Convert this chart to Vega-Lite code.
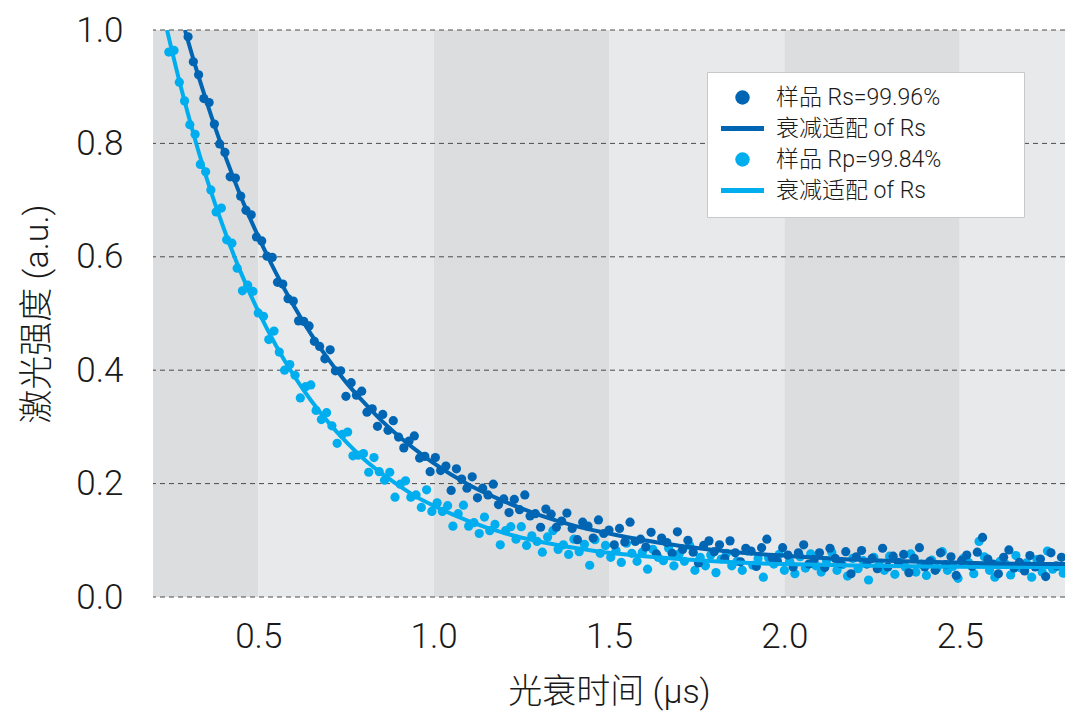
{
  "$schema": "https://vega.github.io/schema/vega-lite/v6.json",
  "width": 912,
  "height": 567,
  "autosize": {"type": "none"},
  "padding": {"left": 153, "top": 30, "right": 0, "bottom": 119},
  "background": "white",
  "config": {"view": {"stroke": null}},
  "datasets": {
    "bands": [
      {"x1": 0.2, "x2": 0.5, "tone": "dark"},
      {"x1": 0.5, "x2": 1.0, "tone": "light"},
      {"x1": 1.0, "x2": 1.5, "tone": "dark"},
      {"x1": 1.5, "x2": 2.0, "tone": "light"},
      {"x1": 2.0, "x2": 2.5, "tone": "dark"},
      {"x1": 2.5, "x2": 2.8, "tone": "light"}
    ],
    "grid": [{"v": 0}, {"v": 0.2}, {"v": 0.4}, {"v": 0.6}, {"v": 0.8}, {"v": 1.0}],
    "rs": [
      {"x":0.300,"y":0.988},{"x":0.315,"y":0.944},{"x":0.330,"y":0.921},{"x":0.345,"y":0.879},{"x":0.360,"y":0.872},{"x":0.375,"y":0.834},{"x":0.390,"y":0.799},{"x":0.405,"y":0.784},{"x":0.420,"y":0.741},{"x":0.435,"y":0.739},
      {"x":0.450,"y":0.707},{"x":0.465,"y":0.682},{"x":0.480,"y":0.674},{"x":0.495,"y":0.635},{"x":0.510,"y":0.628},{"x":0.525,"y":0.601},{"x":0.540,"y":0.599},{"x":0.555,"y":0.555},{"x":0.570,"y":0.552},{"x":0.585,"y":0.526},
      {"x":0.600,"y":0.522},{"x":0.615,"y":0.487},{"x":0.630,"y":0.486},{"x":0.645,"y":0.478},{"x":0.660,"y":0.451},{"x":0.675,"y":0.442},{"x":0.690,"y":0.420},{"x":0.705,"y":0.436},{"x":0.720,"y":0.399},{"x":0.735,"y":0.399},
      {"x":0.750,"y":0.354},{"x":0.765,"y":0.378},{"x":0.780,"y":0.356},{"x":0.795,"y":0.363},{"x":0.810,"y":0.326},{"x":0.825,"y":0.332},{"x":0.840,"y":0.301},{"x":0.855,"y":0.322},{"x":0.870,"y":0.294},{"x":0.885,"y":0.311},
      {"x":0.900,"y":0.282},{"x":0.915,"y":0.263},{"x":0.930,"y":0.275},{"x":0.945,"y":0.284},{"x":0.960,"y":0.245},{"x":0.975,"y":0.248},{"x":0.990,"y":0.221},{"x":1.005,"y":0.246},{"x":1.020,"y":0.223},{"x":1.035,"y":0.231},
      {"x":1.050,"y":0.188},{"x":1.065,"y":0.226},{"x":1.080,"y":0.208},{"x":1.095,"y":0.192},{"x":1.110,"y":0.212},{"x":1.125,"y":0.175},{"x":1.140,"y":0.192},{"x":1.155,"y":0.180},{"x":1.170,"y":0.199},{"x":1.185,"y":0.163},
      {"x":1.200,"y":0.173},{"x":1.215,"y":0.149},{"x":1.230,"y":0.172},{"x":1.245,"y":0.154},{"x":1.260,"y":0.180},{"x":1.275,"y":0.143},{"x":1.290,"y":0.147},{"x":1.305,"y":0.123},{"x":1.320,"y":0.155},{"x":1.335,"y":0.146},
      {"x":1.350,"y":0.123},{"x":1.365,"y":0.134},{"x":1.380,"y":0.148},{"x":1.395,"y":0.121},{"x":1.410,"y":0.101},{"x":1.425,"y":0.132},{"x":1.440,"y":0.125},{"x":1.455,"y":0.104},{"x":1.470,"y":0.136},{"x":1.485,"y":0.112},
      {"x":1.500,"y":0.118},{"x":1.515,"y":0.092},{"x":1.530,"y":0.121},{"x":1.545,"y":0.097},{"x":1.560,"y":0.132},{"x":1.575,"y":0.098},{"x":1.590,"y":0.102},{"x":1.605,"y":0.088},{"x":1.620,"y":0.114},{"x":1.635,"y":0.076},
      {"x":1.650,"y":0.104},{"x":1.665,"y":0.096},{"x":1.680,"y":0.077},{"x":1.695,"y":0.115},{"x":1.710,"y":0.084},{"x":1.725,"y":0.100},{"x":1.740,"y":0.079},{"x":1.755,"y":0.060},{"x":1.770,"y":0.091},{"x":1.785,"y":0.099},
      {"x":1.800,"y":0.080},{"x":1.815,"y":0.092},{"x":1.830,"y":0.068},{"x":1.845,"y":0.099},{"x":1.860,"y":0.078},{"x":1.875,"y":0.062},{"x":1.890,"y":0.086},{"x":1.905,"y":0.081},{"x":1.920,"y":0.054},{"x":1.935,"y":0.087},
      {"x":1.950,"y":0.102},{"x":1.965,"y":0.069},{"x":1.980,"y":0.063},{"x":1.995,"y":0.087},{"x":2.010,"y":0.074},{"x":2.025,"y":0.053},{"x":2.040,"y":0.078},{"x":2.055,"y":0.092},{"x":2.070,"y":0.058},{"x":2.085,"y":0.066},
      {"x":2.100,"y":0.078},{"x":2.115,"y":0.052},{"x":2.130,"y":0.086},{"x":2.145,"y":0.068},{"x":2.160,"y":0.059},{"x":2.175,"y":0.080},{"x":2.190,"y":0.041},{"x":2.205,"y":0.071},{"x":2.220,"y":0.082},{"x":2.235,"y":0.058},
      {"x":2.250,"y":0.068},{"x":2.265,"y":0.050},{"x":2.280,"y":0.086},{"x":2.295,"y":0.053},{"x":2.310,"y":0.072},{"x":2.325,"y":0.061},{"x":2.340,"y":0.075},{"x":2.355,"y":0.043},{"x":2.370,"y":0.068},{"x":2.385,"y":0.087},
      {"x":2.400,"y":0.053},{"x":2.415,"y":0.063},{"x":2.430,"y":0.047},{"x":2.445,"y":0.078},{"x":2.460,"y":0.057},{"x":2.475,"y":0.071},{"x":2.490,"y":0.038},{"x":2.505,"y":0.064},{"x":2.520,"y":0.074},{"x":2.535,"y":0.054},
      {"x":2.550,"y":0.079},{"x":2.565,"y":0.105},{"x":2.580,"y":0.067},{"x":2.595,"y":0.058},{"x":2.610,"y":0.041},{"x":2.625,"y":0.070},{"x":2.640,"y":0.083},{"x":2.655,"y":0.051},{"x":2.670,"y":0.061},{"x":2.685,"y":0.046},
      {"x":2.700,"y":0.073},{"x":2.715,"y":0.053},{"x":2.730,"y":0.067},{"x":2.745,"y":0.036},{"x":2.760,"y":0.078},{"x":2.775,"y":0.055},{"x":2.790,"y":0.070}
    ],
    "rp": [
      {"x":0.245,"y":0.961},{"x":0.260,"y":0.964},{"x":0.275,"y":0.908},{"x":0.290,"y":0.875},{"x":0.305,"y":0.833},{"x":0.320,"y":0.816},{"x":0.335,"y":0.763},{"x":0.350,"y":0.750},{"x":0.365,"y":0.718},{"x":0.380,"y":0.679},
      {"x":0.395,"y":0.686},{"x":0.410,"y":0.630},{"x":0.425,"y":0.624},{"x":0.440,"y":0.580},{"x":0.455,"y":0.540},{"x":0.470,"y":0.550},{"x":0.485,"y":0.539},{"x":0.500,"y":0.501},{"x":0.515,"y":0.495},{"x":0.530,"y":0.454},
      {"x":0.545,"y":0.469},{"x":0.560,"y":0.432},{"x":0.575,"y":0.400},{"x":0.590,"y":0.410},{"x":0.605,"y":0.391},{"x":0.620,"y":0.351},{"x":0.635,"y":0.371},{"x":0.650,"y":0.374},{"x":0.665,"y":0.329},{"x":0.680,"y":0.313},
      {"x":0.695,"y":0.325},{"x":0.710,"y":0.302},{"x":0.725,"y":0.271},{"x":0.740,"y":0.287},{"x":0.755,"y":0.291},{"x":0.770,"y":0.249},{"x":0.785,"y":0.250},{"x":0.800,"y":0.253},{"x":0.815,"y":0.220},{"x":0.830,"y":0.246},
      {"x":0.845,"y":0.221},{"x":0.860,"y":0.206},{"x":0.875,"y":0.220},{"x":0.890,"y":0.176},{"x":0.905,"y":0.199},{"x":0.920,"y":0.205},{"x":0.935,"y":0.176},{"x":0.950,"y":0.180},{"x":0.965,"y":0.158},{"x":0.980,"y":0.189},
      {"x":0.995,"y":0.151},{"x":1.010,"y":0.166},{"x":1.025,"y":0.151},{"x":1.040,"y":0.161},{"x":1.055,"y":0.125},{"x":1.070,"y":0.147},{"x":1.085,"y":0.162},{"x":1.100,"y":0.125},{"x":1.115,"y":0.131},{"x":1.130,"y":0.112},
      {"x":1.145,"y":0.141},{"x":1.160,"y":0.117},{"x":1.175,"y":0.128},{"x":1.190,"y":0.092},{"x":1.205,"y":0.117},{"x":1.220,"y":0.124},{"x":1.235,"y":0.102},{"x":1.250,"y":0.124},{"x":1.265,"y":0.091},{"x":1.280,"y":0.108},
      {"x":1.295,"y":0.098},{"x":1.310,"y":0.079},{"x":1.325,"y":0.106},{"x":1.340,"y":0.117},{"x":1.355,"y":0.084},{"x":1.370,"y":0.092},{"x":1.385,"y":0.075},{"x":1.400,"y":0.102},{"x":1.415,"y":0.080},{"x":1.430,"y":0.093},
      {"x":1.445,"y":0.056},{"x":1.460,"y":0.101},{"x":1.475,"y":0.077},{"x":1.490,"y":0.091},{"x":1.505,"y":0.070},{"x":1.520,"y":0.082},{"x":1.535,"y":0.061},{"x":1.550,"y":0.095},{"x":1.565,"y":0.077},{"x":1.580,"y":0.063},
      {"x":1.595,"y":0.079},{"x":1.610,"y":0.049},{"x":1.625,"y":0.084},{"x":1.640,"y":0.070},{"x":1.655,"y":0.064},{"x":1.670,"y":0.086},{"x":1.685,"y":0.055},{"x":1.700,"y":0.076},{"x":1.715,"y":0.063},{"x":1.730,"y":0.091},
      {"x":1.745,"y":0.047},{"x":1.760,"y":0.070},{"x":1.775,"y":0.055},{"x":1.790,"y":0.074},{"x":1.805,"y":0.043},{"x":1.820,"y":0.067},{"x":1.835,"y":0.077},{"x":1.850,"y":0.055},{"x":1.865,"y":0.063},{"x":1.880,"y":0.047},
      {"x":1.895,"y":0.081},{"x":1.910,"y":0.056},{"x":1.925,"y":0.068},{"x":1.940,"y":0.035},{"x":1.955,"y":0.069},{"x":1.970,"y":0.058},{"x":1.985,"y":0.075},{"x":2.000,"y":0.047},{"x":2.015,"y":0.063},{"x":2.030,"y":0.041},
      {"x":2.045,"y":0.071},{"x":2.060,"y":0.051},{"x":2.075,"y":0.076},{"x":2.090,"y":0.055},{"x":2.105,"y":0.044},{"x":2.120,"y":0.064},{"x":2.135,"y":0.079},{"x":2.150,"y":0.047},{"x":2.165,"y":0.057},{"x":2.180,"y":0.037},
      {"x":2.195,"y":0.068},{"x":2.210,"y":0.050},{"x":2.225,"y":0.064},{"x":2.240,"y":0.030},{"x":2.255,"y":0.070},{"x":2.270,"y":0.058},{"x":2.285,"y":0.047},{"x":2.300,"y":0.072},{"x":2.315,"y":0.040},{"x":2.330,"y":0.060},
      {"x":2.345,"y":0.053},{"x":2.360,"y":0.076},{"x":2.375,"y":0.044},{"x":2.390,"y":0.058},{"x":2.405,"y":0.038},{"x":2.420,"y":0.065},{"x":2.435,"y":0.051},{"x":2.450,"y":0.080},{"x":2.465,"y":0.047},{"x":2.480,"y":0.054},
      {"x":2.495,"y":0.033},{"x":2.510,"y":0.068},{"x":2.525,"y":0.061},{"x":2.540,"y":0.041},{"x":2.555,"y":0.098},{"x":2.570,"y":0.071},{"x":2.585,"y":0.047},{"x":2.600,"y":0.035},{"x":2.615,"y":0.063},{"x":2.630,"y":0.058},
      {"x":2.645,"y":0.039},{"x":2.660,"y":0.073},{"x":2.675,"y":0.051},{"x":2.690,"y":0.060},{"x":2.705,"y":0.035},{"x":2.720,"y":0.066},{"x":2.735,"y":0.044},{"x":2.750,"y":0.081},{"x":2.765,"y":0.049},{"x":2.780,"y":0.054},
      {"x":2.795,"y":0.042}
    ],
    "fitRs": [
      {"x":0.291,"y":1.000},{"x":0.32,"y":0.938},{"x":0.35,"y":0.879},{"x":0.38,"y":0.823},{"x":0.41,"y":0.771},{"x":0.45,"y":0.707},{"x":0.5,"y":0.636},{"x":0.55,"y":0.572},{"x":0.6,"y":0.515},{"x":0.65,"y":0.464},
      {"x":0.7,"y":0.419},{"x":0.75,"y":0.379},{"x":0.8,"y":0.344},{"x":0.85,"y":0.312},{"x":0.9,"y":0.284},{"x":0.95,"y":0.259},{"x":1.0,"y":0.236},{"x":1.1,"y":0.198},{"x":1.2,"y":0.169},{"x":1.3,"y":0.145},
      {"x":1.4,"y":0.126},{"x":1.5,"y":0.112},{"x":1.6,"y":0.100},{"x":1.7,"y":0.0905},{"x":1.8,"y":0.083},{"x":1.9,"y":0.077},{"x":2.0,"y":0.073},{"x":2.2,"y":0.066},{"x":2.4,"y":0.062},{"x":2.6,"y":0.059},{"x":2.8,"y":0.058}
    ],
    "fitRp": [
      {"x":0.24,"y":1.000},{"x":0.28,"y":0.898},{"x":0.32,"y":0.807},{"x":0.36,"y":0.725},{"x":0.4,"y":0.653},{"x":0.45,"y":0.573},{"x":0.5,"y":0.504},{"x":0.55,"y":0.444},{"x":0.6,"y":0.392},{"x":0.65,"y":0.347},
      {"x":0.7,"y":0.308},{"x":0.75,"y":0.274},{"x":0.8,"y":0.244},{"x":0.85,"y":0.219},{"x":0.9,"y":0.197},{"x":0.95,"y":0.177},{"x":1.0,"y":0.161},{"x":1.1,"y":0.134},{"x":1.2,"y":0.113},{"x":1.3,"y":0.098},
      {"x":1.4,"y":0.087},{"x":1.5,"y":0.078},{"x":1.6,"y":0.072},{"x":1.7,"y":0.067},{"x":1.8,"y":0.063},{"x":1.9,"y":0.060},{"x":2.0,"y":0.058},{"x":2.2,"y":0.0556},{"x":2.4,"y":0.054},{"x":2.6,"y":0.053},{"x":2.8,"y":0.0526}
    ]
  },
  "layer": [
    {
      "data": {"name": "bands"},
      "mark": {"type": "rect"},
      "encoding": {
        "x": {
          "field": "x1", "type": "quantitative",
          "scale": {"domain": [0.2, 2.8], "nice": false, "zero": false},
          "axis": {
            "title": "光衰时间 (μs)",
            "values": [0.5, 1.0, 1.5, 2.0, 2.5],
            "format": ".1f",
            "grid": false, "domain": false, "ticks": false, "tickSize": 0,
            "labelFont": "Roboto", "labelFontWeight": 300, "labelFontSize": 35, "labelColor": "#1a1a1a",
            "labelPadding": 22,
            "titleFont": "Roboto, Noto Sans CJK SC", "titleFontWeight": 300, "titleFontSize": 34, "titleColor": "#1a1a1a",
            "titlePadding": 21
          }
        },
        "x2": {"field": "x2"},
        "y": {
          "datum": 0, "type": "quantitative",
          "scale": {"domain": [0, 1], "nice": false},
          "axis": {
            "title": "激光强度 (a.u.)",
            "values": [0, 0.2, 0.4, 0.6, 0.8, 1.0],
            "format": ".1f",
            "grid": false, "domain": false, "ticks": false, "tickSize": 0,
            "labelFont": "Roboto", "labelFontWeight": 300, "labelFontSize": 35, "labelColor": "#1a1a1a",
            "labelPadding": 30,
            "titleFont": "Roboto, Noto Sans CJK SC", "titleFontWeight": 300, "titleFontSize": 34, "titleColor": "#1a1a1a",
            "titlePadding": 21
          }
        },
        "y2": {"datum": 1},
        "fill": {"field": "tone", "type": "nominal", "scale": {"domain": ["dark", "light"], "range": ["#dcdddf", "#e8e9eb"]}, "legend": null}
      }
    },
    {
      "data": {"name": "grid"},
      "mark": {"type": "rule", "color": "#4a4a4a", "strokeWidth": 1, "strokeDash": [5, 4]},
      "encoding": {"y": {"field": "v", "type": "quantitative"}}
    },
    {
      "data": {"name": "rp"},
      "mark": {"type": "point", "filled": true, "opacity": 1, "size": 85, "shape": "circle", "clip": true},
      "encoding": {
        "x": {"field": "x", "type": "quantitative"},
        "y": {"field": "y", "type": "quantitative"},
        "color": {"datum": "c"}
      }
    },
    {
      "data": {"name": "rs"},
      "mark": {"type": "point", "filled": true, "opacity": 1, "size": 85, "shape": "circle", "clip": true},
      "encoding": {
        "x": {"field": "x", "type": "quantitative"},
        "y": {"field": "y", "type": "quantitative"},
        "color": {
          "datum": "a",
          "scale": {"domain": ["a", "b", "c", "d"], "range": ["#0066b3", "#0066b3", "#00aeef", "#00aeef"]},
          "legend": {
            "title": null,
            "orient": "none",
            "legendX": 554,
            "legendY": 42,
            "padding": 14,
            "fillColor": "white",
            "strokeColor": "#c8c8c8",
            "labelFont": "Roboto, Noto Sans CJK SC",
            "labelFontWeight": 300,
            "labelFontSize": 23,
            "labelColor": "#1a1a1a",
            "labelOffset": 22,
            "symbolOffset": 10,
            "labelLimit": 500,
            "rowPadding": 7,
            "symbolOpacity": 1,
            "symbolStrokeWidth": 0,
            "symbolType": {"expr": "datum.value == 'b' || datum.value == 'd' ? 'M-1,-0.115L1,-0.115L1,0.115L-1,0.115Z' : 'circle'"},
            "symbolSize": {"expr": "datum.value == 'b' || datum.value == 'd' ? 1850 : 210"},
            "labelExpr": "datum.value == 'a' ? '样品 Rs=99.96%' : datum.value == 'b' ? '衰减适配 of Rs' : datum.value == 'c' ? '样品 Rp=99.84%\u2800\u2800\u2800\u2800' : '衰减适配 of Rs'"
          }
        }
      }
    },
    {
      "data": {"name": "fitRp"},
      "mark": {"type": "line", "strokeWidth": 4, "interpolate": "monotone", "clip": true},
      "encoding": {
        "x": {"field": "x", "type": "quantitative"},
        "y": {"field": "y", "type": "quantitative"},
        "color": {"datum": "d"}
      }
    },
    {
      "data": {"name": "fitRs"},
      "mark": {"type": "line", "strokeWidth": 4, "interpolate": "monotone", "clip": true},
      "encoding": {
        "x": {"field": "x", "type": "quantitative"},
        "y": {"field": "y", "type": "quantitative"},
        "color": {"datum": "b"}
      }
    }
  ]
}
